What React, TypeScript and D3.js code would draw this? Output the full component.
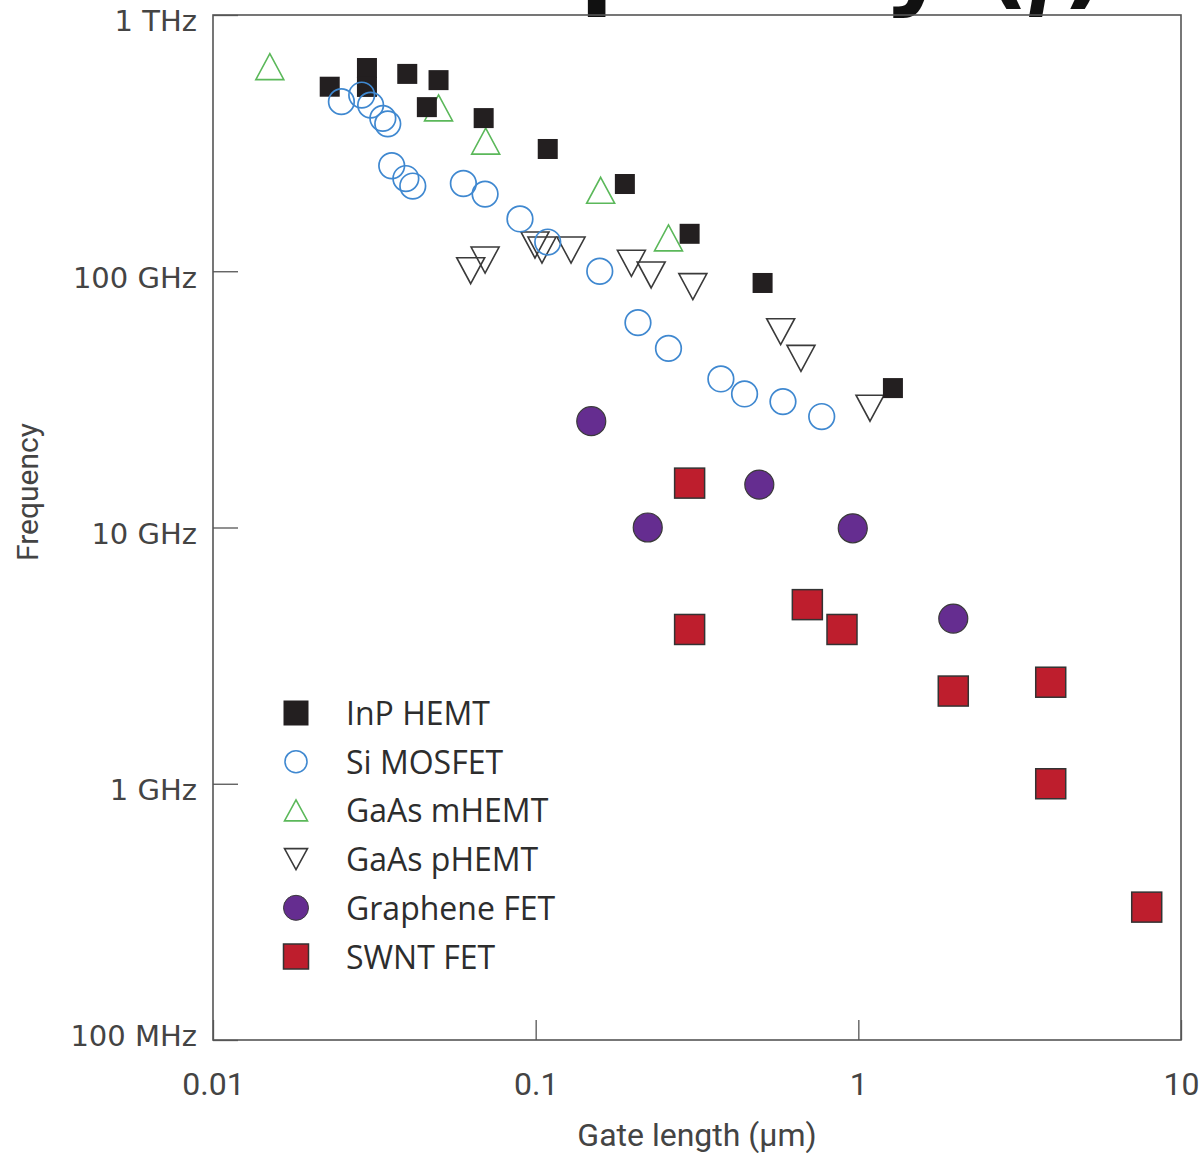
import React, { useEffect, useRef } from 'react';
import * as d3 from 'd3';

// gate length (um), frequency (GHz)
const inpX = [0.023, 0.030, 0.030, 0.040, 0.050, 0.046, 0.069, 0.109, 0.189, 0.30, 0.505, 1.28];
const inpY = [525, 621, 524, 589, 557, 437, 396, 300, 219, 140, 90, 35];

const siX = [0.025, 0.0289, 0.0308, 0.0336, 0.0348, 0.0358, 0.0396, 0.0416, 0.0597, 0.0697, 0.0894, 0.109, 0.158, 0.2075, 0.258, 0.375, 0.444, 0.584, 0.77];
const siY = [459, 487, 445, 395, 376, 258, 230, 215, 220, 200, 160, 130, 100, 63, 50, 38, 33.2, 31, 27.1];

const mhemtX = [0.015, 0.05, 0.07, 0.159, 0.258];
const mhemtY = [629, 434, 322, 207, 135];

const phemtX = [0.0629, 0.0697, 0.0995, 0.1046, 0.1287, 0.198, 0.228, 0.307, 0.5745, 0.664, 1.087];
const phemtY = [100.5, 110.6, 126.6, 121, 121, 107.4, 96.7, 87.1, 58.1, 45.7, 29.2];

const grapheneX = [0.1487, 0.4933, 0.2225, 0.961, 1.969];
const grapheneY = [26.0, 14.7, 10.0, 9.93, 4.41];

const swntX = [0.30, 0.30, 0.695, 0.89, 1.969, 3.947, 3.947, 7.83];
const swntY = [14.9, 4.0, 5.0, 4.0, 2.30, 2.49, 1.0, 0.33];

const seriesNames = ['InP HEMT', 'Si MOSFET', 'GaAs mHEMT', 'GaAs pHEMT', 'Graphene FET', 'SWNT FET'];

const xTicks = [0.01, 0.1, 1, 10];
const xTickLabels = ['0.01', '0.1', '1', '10'];
const yTicks = [1e8, 1e9, 1e10, 1e11, 1e12];
const yTickLabels = ['100 MHz', '1 GHz', '10 GHz', '100 GHz', '1 THz'];

const W = 1199;
const H = 1153;

const zip = (xs: number[], ys: number[]) => xs.map((x, i) => ({ x, f: ys[i] * 1e9 }));

const upTri = (w: number, h: number) => `M0,${-h / 2}L${w / 2},${h / 2}L${-w / 2},${h / 2}Z`;
const downTri = (w: number, h: number) => `M0,${h / 2}L${w / 2},${-h / 2}L${-w / 2},${-h / 2}Z`;

const App = () => {
  const svgRef = useRef<SVGSVGElement>(null);

  useEffect(() => {
    const svg = d3.select(svgRef.current);
    svg.selectAll('*').remove();

    const margin = { top: 15, right: 18, bottom: 113, left: 213 };
    const cw = W - margin.left - margin.right;
    const ch = H - margin.top - margin.bottom;

    // big heading, mostly cut off at the top of the picture
    const title = svg.append('text')
      .attr('x', 1108)
      .attr('y', -4)
      .attr('text-anchor', 'end')
      .attr('font-family', 'DejaVu Sans')
      .attr('font-weight', 'bold')
      .attr('font-size', 100)
      .attr('fill', '#111');
    title.append('tspan').text('Frequency (');
    title.append('tspan').attr('font-family', 'Liberation Serif').attr('font-style', 'italic').text('f');
    title.append('tspan').text(')');

    const g = svg.append('g').attr('transform', `translate(${margin.left},${margin.top})`);

    const x = d3.scaleLog().domain([0.01, 10]).range([0, cw]);
    const y = d3.scaleLog().domain([1e8, 1e12]).range([ch, 0]);

    // axes
    const yAxis = g.append('g')
      .call(d3.axisLeft(y).tickValues(yTicks).tickSize(-25).tickPadding(16)
        .tickFormat((d, i) => yTickLabels[i]));
    yAxis.select('.domain').remove();
    yAxis.selectAll('line').attr('stroke', '#555').attr('stroke-width', 1.3);
    yAxis.selectAll('text')
      .attr('font-family', 'DejaVu Sans')
      .attr('font-size', 29)
      .attr('fill', '#444')
      .attr('dy', (d: any) => (d === 1e8 ? '0.18em' : '0.55em'));

    const xAxis = g.append('g')
      .attr('transform', `translate(0,${ch})`)
      .call(d3.axisBottom(x).tickValues(xTicks).tickSize(-20).tickPadding(32)
        .tickFormat((d, i) => xTickLabels[i]));
    xAxis.select('.domain').remove();
    xAxis.selectAll('line').attr('stroke', '#555').attr('stroke-width', 1.3);
    xAxis.selectAll('text')
      .attr('font-family', 'Roboto')
      .attr('font-size', 32)
      .attr('fill', '#444');

    // frame
    g.append('rect')
      .attr('width', cw)
      .attr('height', ch)
      .attr('fill', 'none')
      .attr('stroke', '#555')
      .attr('stroke-width', 1.6);

    // axis titles
    svg.append('text')
      .attr('x', margin.left + cw / 2)
      .attr('y', 1146)
      .attr('text-anchor', 'middle')
      .attr('font-family', 'Roboto')
      .attr('font-size', 32)
      .attr('fill', '#444')
      .text('Gate length (\u03bcm)');

    svg.append('text')
      .attr('transform', 'translate(38,492) rotate(-90)')
      .attr('text-anchor', 'middle')
      .attr('font-family', 'Roboto')
      .attr('font-size', 30)
      .attr('fill', '#444')
      .text('Frequency');

    const pos = (d: { x: number; f: number }) => `translate(${x(d.x)},${y(d.f)})`;

    // GaAs mHEMT
    g.selectAll('.mhemt')
      .data(zip(mhemtX, mhemtY))
      .enter().append('path')
      .attr('class', 'mhemt')
      .attr('transform', pos)
      .attr('d', upTri(28, 26))
      .attr('fill', 'none')
      .attr('stroke', '#5bb85a')
      .attr('stroke-width', 1.6);

    // GaAs pHEMT
    g.selectAll('.phemt')
      .data(zip(phemtX, phemtY))
      .enter().append('path')
      .attr('class', 'phemt')
      .attr('transform', pos)
      .attr('d', downTri(28, 26))
      .attr('fill', 'none')
      .attr('stroke', '#3a3a3a')
      .attr('stroke-width', 1.6);

    // InP HEMT
    g.selectAll('.inp')
      .data(zip(inpX, inpY))
      .enter().append('rect')
      .attr('class', 'inp')
      .attr('x', d => x(d.x) - 10)
      .attr('y', d => y(d.f) - 10)
      .attr('width', 20)
      .attr('height', 20)
      .attr('fill', '#231f20');

    // Si MOSFET
    g.selectAll('.si')
      .data(zip(siX, siY))
      .enter().append('circle')
      .attr('class', 'si')
      .attr('cx', d => x(d.x))
      .attr('cy', d => y(d.f))
      .attr('r', 12.8)
      .attr('fill', 'none')
      .attr('stroke', '#3f88d0')
      .attr('stroke-width', 1.7);

    // Graphene FET
    g.selectAll('.gr')
      .data(zip(grapheneX, grapheneY))
      .enter().append('circle')
      .attr('class', 'gr')
      .attr('cx', d => x(d.x))
      .attr('cy', d => y(d.f))
      .attr('r', 14.5)
      .attr('fill', '#652d90')
      .attr('stroke', '#3a3a3a')
      .attr('stroke-width', 1.2);

    // SWNT FET
    g.selectAll('.swnt')
      .data(zip(swntX, swntY))
      .enter().append('rect')
      .attr('class', 'swnt')
      .attr('x', d => x(d.x) - 15)
      .attr('y', d => y(d.f) - 15)
      .attr('width', 30)
      .attr('height', 30)
      .attr('fill', '#be1e2d')
      .attr('stroke', '#333')
      .attr('stroke-width', 1.5);

    // legend
    const lg = svg.append('g').attr('transform', 'translate(296,713)');
    const step = 48.7;
    seriesNames.forEach((name, i) => {
      const row = lg.append('g').attr('transform', `translate(0,${i * step})`);
      if (i === 0) row.append('rect').attr('x', -12.5).attr('y', -12.5).attr('width', 25).attr('height', 25).attr('fill', '#231f20');
      if (i === 1) row.append('circle').attr('r', 11).attr('fill', 'none').attr('stroke', '#3f88d0').attr('stroke-width', 1.6);
      if (i === 2) row.append('path').attr('d', upTri(23, 21)).attr('fill', 'none').attr('stroke', '#5bb85a').attr('stroke-width', 1.6);
      if (i === 3) row.append('path').attr('d', downTri(23, 21)).attr('fill', 'none').attr('stroke', '#3a3a3a').attr('stroke-width', 1.6);
      if (i === 4) row.append('circle').attr('r', 12.5).attr('fill', '#652d90').attr('stroke', '#3a3a3a').attr('stroke-width', 1);
      if (i === 5) row.append('rect').attr('x', -12.5).attr('y', -12.5).attr('width', 25).attr('height', 25).attr('fill', '#be1e2d').attr('stroke', '#333').attr('stroke-width', 1.5);
      row.append('text')
        .attr('x', 50)
        .attr('y', 12)
        .attr('font-family', 'Open Sans')
        .attr('font-size', 32)
        .attr('fill', '#2d2d2d')
        .text(name);
    });
  }, []);

  return (
    <svg
      ref={svgRef}
      width={W}
      height={H}
      style={{ position: 'absolute', left: 0, top: 0, background: '#fff' }}
    />
  );
};

export default App;
